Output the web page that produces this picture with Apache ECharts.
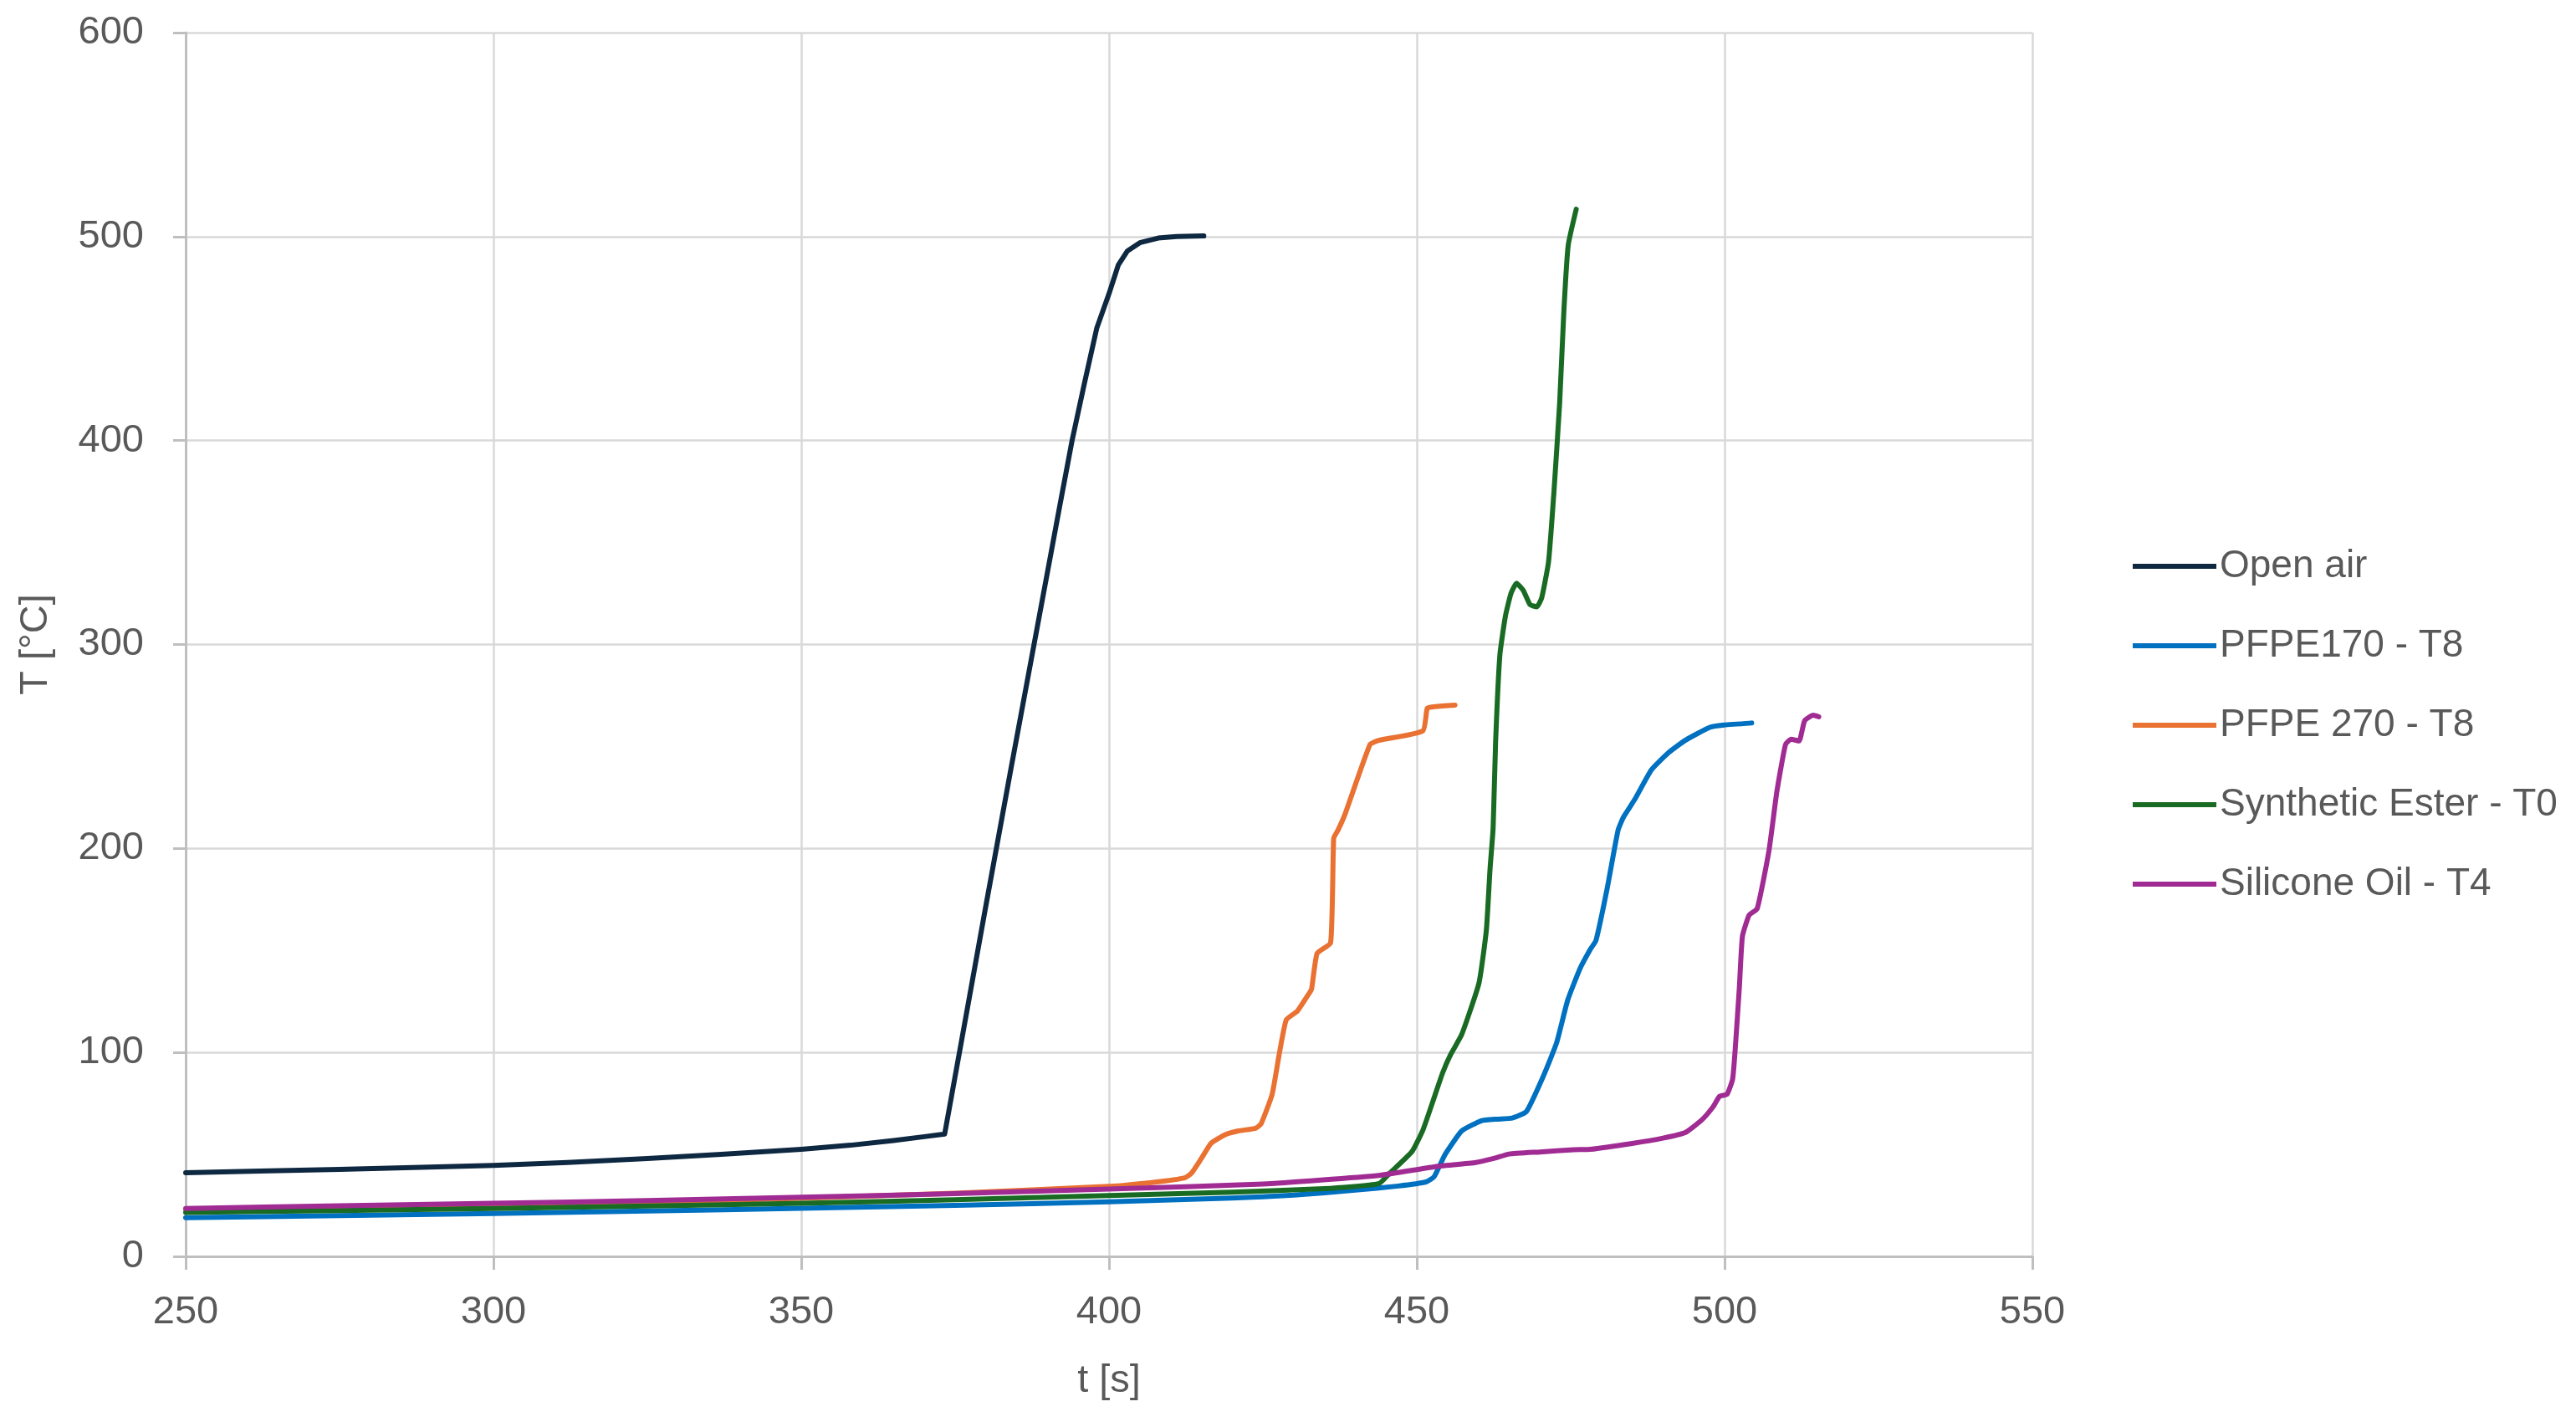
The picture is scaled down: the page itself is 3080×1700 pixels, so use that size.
<!DOCTYPE html>
<html>
<head>
<meta charset="utf-8">
<script src="https://cdn.jsdelivr.net/npm/echarts@6/dist/echarts.min.js"></script>
<style>
html,body{margin:0;padding:0;background:#fff;}
#chart{width:3080px;height:1700px;}
</style>
</head>
<body>
<div id="chart"></div>
<script>
// ---- data (time in s, temperature in °C) ----
const seriesNames = ["Open air", "PFPE170 - T8", "PFPE 270 - T8", "Synthetic Ester - T0", "Silicone Oil - T4"];

const openAirTime = [250, 262, 275, 287, 300, 312, 325, 337, 350, 358, 365, 370, 373.3, 376, 380, 384, 388, 392, 394, 396, 398, 400, 401.5, 403, 405, 408, 411, 415.4];
const openAirTemp = [41, 41.8, 42.7, 43.6, 44.6, 46, 48, 50, 52.5, 54.5, 56.8, 58.7, 60, 105, 172, 238, 303, 368, 400, 428, 455, 472, 486, 493, 497, 499.3, 500, 500.3];

const pfpe170Time = [250, 275, 300, 325, 350, 375, 400, 420, 430, 440, 447, 451.5, 452.8, 454.6, 457.3, 460.5, 463, 465.5, 467.8, 470.5, 472.7, 474.5, 476.5, 478.2, 479.1, 480.9, 482.7, 483.6, 485.4, 488.1, 490.9, 493.6, 497.6, 499.9, 504.4];
const pfpe170Temp = [19, 20, 21, 22.2, 23.6, 25, 26.8, 28.6, 30, 32.5, 34.5, 36.5, 39, 50, 61.5, 66.5, 67.3, 67.8, 71, 88, 104.6, 125.5, 141, 150.6, 154.8, 180, 209, 215.5, 224, 238.5, 247, 253, 259.4, 260.5, 261.5];

const pfpe270Time = [250, 275, 300, 325, 350, 375, 400, 407.5, 412.3, 413.4, 415, 416.6, 418.8, 421, 423.8, 424.7, 426.5, 427.7, 428.8, 430.6, 432.3, 432.9, 433.8, 436, 436.5, 437.2, 438.3, 442.4, 443.8, 451, 451.7, 452.8, 456.2];
const pfpe270Temp = [23, 24, 25, 26.6, 28.5, 31, 34.3, 36.4, 38.5, 40.8, 48, 55.5, 59.6, 61.5, 62.8, 65, 79.5, 100, 116, 120.3, 128, 131, 148.5, 153.8, 205, 209, 216.5, 251, 253, 257.7, 268.8, 269.5, 270.3];

const esterTime = [250, 275, 300, 325, 350, 375, 400, 420, 435, 443.8, 445.6, 449.2, 451, 452.5, 454.2, 455.5, 457.3, 460.1, 461.3, 461.9, 462.4, 462.8, 463.5, 464.4, 465.3, 466.2, 467.3, 468.4, 469.5, 470.3, 471.4, 472.3, 473.2, 473.9, 474.6, 475.9];
const esterTemp = [21.5, 22.5, 23.5, 24.7, 26, 27.8, 29.8, 31.5, 33.2, 35.6, 40.8, 51.3, 62, 75, 90, 99, 108.8, 134, 160, 190, 210, 252, 295, 314, 325, 330, 326.5, 319.5, 318.5, 323, 340.5, 375.8, 418, 464, 495.8, 513.4];

const siliconeTime = [250, 275, 300, 325, 350, 375, 400, 425, 443.8, 452.8, 459.6, 462.5, 465, 470, 475.5, 478.2, 485, 490, 493.6, 496.3, 498.1, 499.2, 500.4, 501.3, 501.7, 502.4, 502.9, 504, 505.3, 507.2, 508.5, 509.9, 510.8, 512.1, 513, 514.4, 515.3];
const siliconeTemp = [23.5, 24.8, 26, 27.4, 29, 30.8, 33, 35.5, 39.7, 43.9, 46, 48, 50.2, 51.2, 52.3, 52.5, 55.4, 58, 60.7, 66.9, 73.2, 78.5, 79.5, 86.8, 100.4, 131.8, 157, 167.4, 170.5, 198.7, 228, 251, 253.6, 252.7, 262.6, 265.3, 264.6];

const xTicks = [250, 300, 350, 400, 450, 500, 550];
const yTicks = [0, 100, 200, 300, 400, 500, 600];

const colors = ["#0e2841", "#0070c0", "#e97132", "#196b24", "#a02b93"];
const smoothing = [false, 0.15, 0.15, 0.15, 0.15];

// ---- build ----
function pairs(t, v) { return t.map((x, i) => [x, v[i]]); }
const allData = [
  pairs(openAirTime, openAirTemp),
  pairs(pfpe170Time, pfpe170Temp),
  pairs(pfpe270Time, pfpe270Temp),
  pairs(esterTime, esterTemp),
  pairs(siliconeTime, siliconeTemp)
];

const FONT = "'Liberation Sans', Arial, sans-serif";
const TXT = "#595959";

const chart = echarts.init(document.getElementById('chart'), null, {renderer: 'canvas'});
chart.setOption({
  animation: false,
  backgroundColor: '#ffffff',
  color: colors,
  grid: {left: 222, top: 39, width: 2208, height: 1463, containLabel: false, outerBoundsMode: 'none'},
  legend: {
    orient: 'vertical',
    left: 2545,
    top: 648,
    itemWidth: 102,
    itemHeight: 6,
    itemGap: 47,
    icon: 'path://M0,0 L100,0 L100,6 L0,6 Z',
    textStyle: {fontFamily: FONT, fontSize: 46, color: TXT, padding: [0, 0, 0, -2], lineHeight: 48},
    data: seriesNames
  },
  xAxis: {
    type: 'value',
    min: xTicks[0], max: xTicks[xTicks.length - 1], interval: 50,
    name: 't [s]',
    nameLocation: 'middle',
    nameGap: 126,
    nameTextStyle: {fontFamily: FONT, fontSize: 47, color: TXT},
    axisLine: {show: true, onZero: false, lineStyle: {color: '#bfbfbf', width: 3}},
    axisTick: {show: true, length: 16, lineStyle: {color: '#bfbfbf', width: 3}},
    axisLabel: {fontFamily: FONT, fontSize: 47, color: TXT, margin: 44},
    splitLine: {show: true, lineStyle: {color: '#d9d9d9', width: 2.5}}
  },
  yAxis: {
    type: 'value',
    min: yTicks[0], max: yTicks[yTicks.length - 1], interval: 100,
    name: 'T [°C]',
    nameLocation: 'middle',
    nameGap: 155,
    nameRotate: 90,
    nameTextStyle: {fontFamily: FONT, fontSize: 47, color: TXT},
    axisLine: {show: true, lineStyle: {color: '#bfbfbf', width: 3}},
    axisTick: {show: true, length: 15, lineStyle: {color: '#bfbfbf', width: 3}},
    axisLabel: {fontFamily: FONT, fontSize: 47, color: TXT, margin: 50},
    splitLine: {show: true, lineStyle: {color: '#d9d9d9', width: 2.5}}
  },
  series: seriesNames.map((name, i) => ({
    name: name,
    type: 'line',
    data: allData[i],
    symbol: 'none',
    showSymbol: false,
    smooth: smoothing[i],
    lineStyle: {width: 6, color: colors[i], join: 'round', cap: 'round'},
    itemStyle: {color: colors[i]},
    z: 2 + i
  }))
});
</script>
</body>
</html>
